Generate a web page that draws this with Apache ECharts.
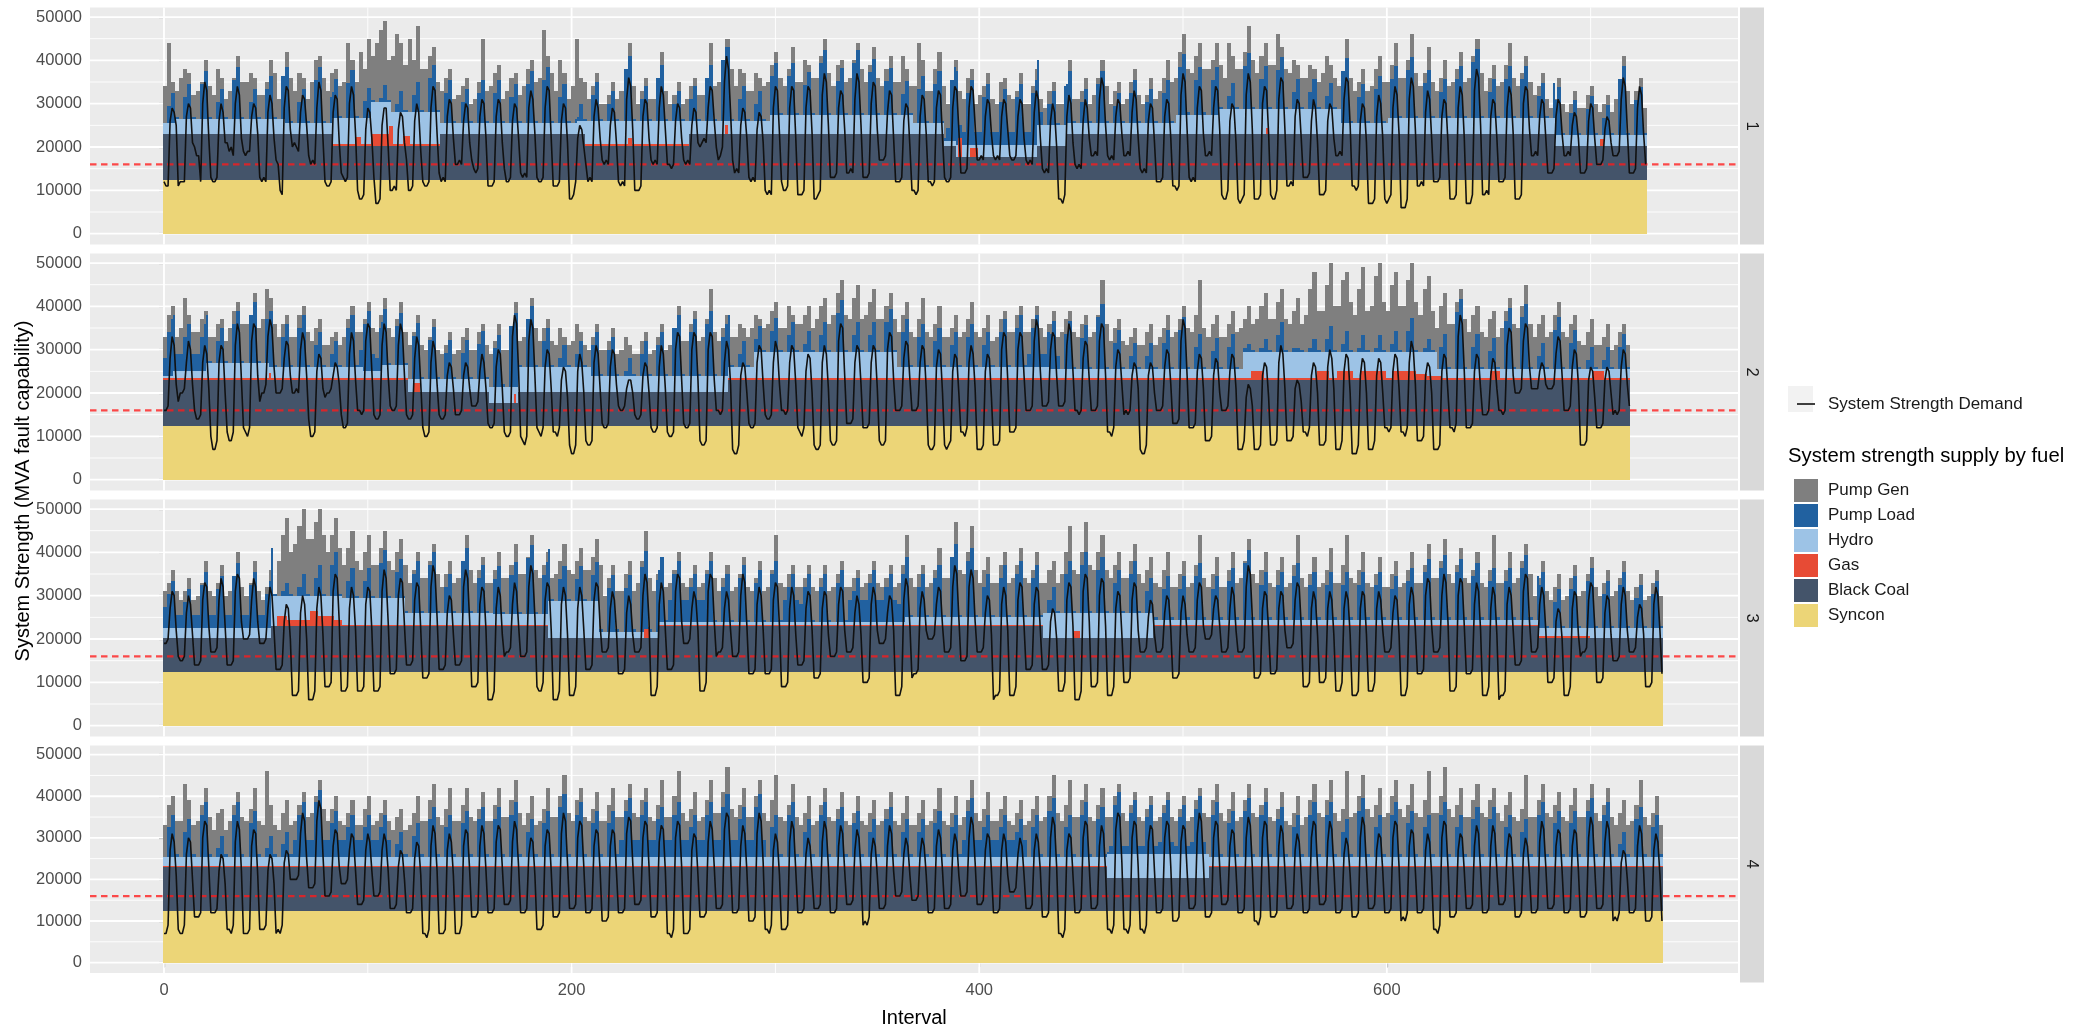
<!DOCTYPE html>
<html><head><meta charset="utf-8">
<script src="https://cdn.jsdelivr.net/npm/echarts@6/dist/echarts.min.js"></script>
<style>html,body{margin:0;padding:0;background:#fff}#c{width:2092px;height:1029px}</style>
</head><body><div id="c"></div>
<script>
// ---------------- DATA (values in thousand MVA) ----------------
const fuelNames = ['Syncon','Black Coal','Gas','Hydro','Pump Load','Pump Gen'];
const legendOrder = ['Pump Gen','Pump Load','Hydro','Gas','Black Coal','Syncon'];
const panelLabels = ['1','2','3','4'];
const xTickValues = [0,200,400,600];
const xMinorValues = [100,300,500,700];
const yTickValues = [0,10000,20000,30000,40000,50000];
const yMinorValues = [5000,15000,25000,35000,45000];
const minStrengthLevel = 16000;

// step segments [startInterval, endInterval, stack top]
const synconTop1 = [[0,728,12.5]];
const synconTop2 = [[0,720,12.5]];
const synconTop3 = [[0,736,12.5]];
const synconTop4 = [[0,736,12.5]];

const coalTop1 = [[0,83,23],[83,136,20.3],[136,207,23],[207,258,20.3],[258,383,23],[383,389,20.3],[389,429,17.7],[429,443,20.3],[443,683,23],[683,728,20.3]];
const coalTop2 = [[0,120,23],[120,160,20.3],[160,174,17.7],[174,277,20.3],[277,720,23]];
const coalTop3 = [[0,53,20.3],[53,189,23],[189,243,20.3],[243,432,23],[432,486,20.3],[486,675,23],[675,736,20.3]];
const coalTop4 = [[0,463,23],[463,513,20.3],[513,736,23]];

const gasTop1 = [[83,94,20.8],[94,97,22.2],[97,102,20.8],[102,111,23],[111,113,24.8],[113,118,20.8],[118,121,22.5],[121,136,20.8],[207,228,20.6],[228,230,22],[230,258,20.6],[276,277,25],[390,392,22],[396,400,19.8],[541,542,24.5],[705,707,21.8]];
const gasTop2 = [[0,52,23.4],[52,53,24.6],[53,120,23.4],[123,126,22.4],[172,173,19.7],[277,534,23.4],[534,540,25],[540,566,23.4],[566,572,25],[572,576,23.4],[576,584,25],[584,588,23.4],[588,600,25],[600,603,23.4],[603,615,25],[615,620,24.5],[620,627,24],[627,651,23.4],[651,656,25],[656,701,23.4],[701,707,25],[707,720,23.4]];
const gasTop3 = [[53,56,22.7],[56,61,25.3],[61,72,24.5],[72,76,26.5],[76,84,25.3],[84,88,24.5],[88,189,23.3],[236,239,22.2],[243,432,23.3],[447,450,21.8],[486,675,23.3],[675,700,20.6]];
const gasTop4 = [[0,463,23.3],[513,736,23.3]];

const hydroTop1 = [[0,6,25.5],[6,60,26.5],[60,83,25.5],[83,102,26.7],[102,112,30.3],[112,136,28],[136,203,25.5],[203,298,26],[298,368,27.3],[368,383,25.5],[383,389,21.5],[389,429,20.5],[429,443,25],[443,497,25.5],[497,518,27.5],[518,578,28.8],[578,601,25.5],[601,683,26.7],[683,728,22.8]];
const hydroTop2 = [[0,5,24],[5,21,25],[21,52,27],[52,98,26],[98,107,25],[107,120,26.5],[120,160,23.2],[160,174,21.5],[174,210,26],[210,277,24],[277,290,26],[290,360,29.4],[360,435,26],[435,530,25.6],[530,625,29.4],[625,720,25.6]];
const hydroTop3 = [[0,53,22.5],[53,88,30],[88,119,29.5],[119,162,26],[162,189,25.8],[189,214,28.8],[214,243,21.7],[243,364,24],[364,432,25],[432,486,26],[486,675,24.5],[675,736,22.5]];
const hydroTop4 = [[0,463,25.5],[463,513,26],[513,736,25.5]];

// Pump Load (MVA, thousands), one value per 2 intervals
const pumpLoad1 = [0,4,7,.5,0,5,8,.5,0,8,11,.5,0,4,7,.5,0,9,12,.5,0,4,7,.5,0,7,10,.5,0,10,13,.5,0,5,8,.5,0,10,13,.5,
0,6,9,.5,0,8,11,.5,0,4,7,.5,0,1,4,.5,0,2,5,.5,0,4,7,.5,0,8,11,.5,0,7,10,.5,0,5,8,.5,0,7,10,.5,
0,7,10,.5,0,6,9,.5,0,9,12,.5,0,10,13,.5,0,6,9,.5,0,1,4,.5,0,6,9,.5,0,4,7,.5,0,12,15,.5,0,5,8,.5,
0,10,13,.5,0,4,7,.5,0,5,8,.5,0,10,13,.5,0,14,17,.5,0,5,8,.5,0,4,7,.5,0,9,12,.5,0,9,12,.5,0,7,10,.5,
0,12,15,.5,0,8,11,.5,0,12,15,.5,0,10,13,.5,0,8,11,.5,0,5,8,.5,0,8,11,.5,0,9,12,.5,3,14,17,3,3,12,15,3,
3,11,14,3,3,10,13,3,3,11,14,3,3,12,15,3,0,5,8,.5,0,9,12,.5,0,5,8,.5,0,9,12,.5,0,4,7,.5,0,7,10,.5,
0,5,8,.5,0,7,10,.5,0,11,14,.5,0,8,11,.5,0,8,11,.5,0,3,6,.5,0,10,13,.5,0,7,10,.5,0,9,12,.5,0,4,7,.5,
0,4,7,.5,0,3,6,.5,0,12,15,.5,0,6,9,.5,0,8,11,.5,0,9,12,.5,0,11,14,.5,0,8,11,.5,0,6,9,.5,0,9,12,.5,
0,13,16,.5,0,6,9,.5,0,9,12,.5,0,9,12,.5,0,5,8,.5,0,8,11,.5,0,5,8,.5,0,6,9,.5,0,4,7,.5,0,13,16,.5,0,8,11,.5];
const pumpLoad2 = [4,10,13,4,4,8,11,4,4,8,11,.5,0,5,8,.5,0,9,12,.5,0,11,14,.5,0,10,13,.5,0,7,10,.5,0,9,12,.5,0,5,8,.5,
0,3,6,.5,0,9,12,.5,4,11,14,4,3,10,13,.5,0,9,12,.5,0,10,13,.5,0,9,12,.5,0,6,9,.5,0,6,9,.5,0,8,11,.5,
0,9,12,.5,0,14,17,.5,0,11,14,.5,0,6,9,.5,0,2,5,.5,0,3,6,.5,0,7,10,.5,0,6,9,.5,0,1,4,.5,0,5,8,.5,
0,7,10,.5,0,11,14,.5,0,10,13,.5,0,12,15,.5,0,9,12,.5,0,3,6,.5,0,3,6,.5,0,5,8,.5,0,4,7,.5,0,2,5,.5,
0,4,7,.5,0,9,12,.5,0,4,7,.5,0,4,7,.5,0,7,10,.5,0,8,11,.5,0,7,10,.5,0,6,9,.5,0,5,8,.5,0,7,10,.5,
0,5,8,.5,0,8,11,.5,0,9,12,.5,3,9,12,3,3,8,11,3,0,8,11,.5,0,7,10,.5,0,12,15,.5,0,6,9,.5,0,3,6,.5,
0,3,6,.5,0,6,9,.5,0,9,12,.5,0,5,8,.5,0,4,7,.5,0,5,8,.5,0,1,2,.5,0,1,3,.5,0,4,7,.5,0,1,1,.5,
0,1,3,.5,0,3,6,.5,0,2,5,.5,0,1,4,.5,0,1,4,.5,0,2,5,.5,0,5,8,.5,0,1,3,.5,0,5,8,.5,0,13,16,.5,
0,5,8,.5,0,4,7,.5,0,11,14,.5,0,12,15,.5,0,3,6,.5,0,9,12,.5,0,6,9,.5,0,2,5,.5,0,2,5,.5,0,5,8,.5];
const pumpLoad3 = [5,8,11,3,3,6,9,3,3,10,13,3,3,9,12,3,3,12,15,3,3,10,13,3,3,8,11,.5,0,1,3,.5,0,2,5,.5,0,4,7,.5,
0,7,10,.5,0,4,7,.5,0,4,7,.5,0,8,11,.5,0,6,9,.5,0,9,12,.5,0,11,14,.5,0,6,9,.5,0,12,15,.5,0,8,11,.5,
0,8,11,.5,0,9,12,.5,0,13,16,.5,0,9,12,.5,0,5,8,.5,0,5,8,.5,0,6,9,.5,0,10,13,.5,0,10,13,.5,0,15,18,.5,
0,12,15,.5,5,11,14,5,5,8,11,5,5,11,14,.5,0,8,11,.5,0,10,13,.5,0,9,12,.5,0,11,14,.5,5,8,11,5,4,8,11,.5,
0,8,11,.5,0,9,12,.5,5,7,10,5,5,9,12,5,5,8,11,5,4,11,14,.5,0,7,10,.5,0,9,12,.5,0,14,17,.5,0,13,16,.5,
0,7,10,.5,0,9,12,.5,0,10,13,.5,0,9,12,.5,0,3,6,.5,0,9,12,.5,0,11,14,.5,0,10,13,.5,0,7,10,.5,0,9,12,.5,
0,5,8,.5,0,7,10,.5,0,7,10,.5,0,10,13,.5,0,7,10,.5,0,9,12,.5,0,13,16,.5,0,8,11,.5,0,8,11,.5,0,10,13,.5,
0,8,11,.5,0,8,11,.5,0,8,11,.5,0,8,11,.5,0,8,11,.5,0,7,10,.5,0,9,12,.5,0,11,14,.5,0,12,15,.5,0,11,14,.5,
0,10,13,.5,0,9,12,.5,0,9,12,.5,0,12,15,.5,0,10,13,.5,0,6,9,.5,0,9,12,.5,0,11,14,.5,0,8,11,.5,0,10,13,.5,0,7,10,.5,0,8,11,.5];
const pumpLoad4 = [0,7,10,.5,0,6,9,.5,0,10,13,.5,0,2,5,.5,0,10,13,.5,0,8,11,.5,0,2,5,.5,0,3,6,.5,4,10,13,4,4,13,16,4,
4,8,11,4,4,7,10,4,4,7,10,4,4,7,10,4,0,3,6,.5,0,5,8,.5,0,9,12,.5,0,7,10,.5,0,8,11,.5,0,9,12,.5,
0,9,12,.5,0,10,13,.5,0,6,9,.5,0,8,11,.5,0,12,15,.5,0,10,13,.5,0,8,11,.5,0,8,11,.5,4,11,14,4,4,10,13,4,
4,9,12,4,4,10,13,4,4,7,10,4,4,10,13,4,4,12,15,4,4,9,12,4,4,12,15,4,0,7,10,.5,0,10,13,.5,0,6,9,.5,
0,10,13,.5,0,9,12,.5,0,8,11,.5,0,6,9,.5,0,9,12,.5,0,6,9,.5,0,6,9,.5,0,8,11,.5,0,7,10,.5,4,11,14,4,
4,7,10,4,4,7,10,4,4,6,9,4,0,7,10,.5,0,11,14,.5,0,7,10,.5,0,10,13,.5,0,9,12,.5,2,12,15,2,2,10,13,2,
2,9,12,2,3,10,13,3,2,9,12,2,3,11,14,3,0,10,13,.5,0,8,11,.5,0,11,14,.5,0,10,13,.5,0,9,12,.5,0,7,10,.5,
0,10,13,.5,0,10,13,.5,0,6,9,.5,0,11,14,.5,0,7,10,.5,0,10,13,.5,0,8,11,.5,0,7,10,.5,0,10,13,.5,0,7,10,.5,
0,9,12,.5,0,9,12,.5,0,7,10,.5,0,6,9,.5,0,10,13,.5,0,8,11,.5,0,8,11,.5,0,11,14,.5,0,10,13,.5,0,3,6,.5,0,9,12,.5,0,7,10,.5];

// Pump Gen stack top (= total supply), one value per 2 intervals
const pumpGenTop1 = [34,44,35,33,36,38,37,32,33,35,40,34,32,38,36,31,33,36,41,35,35,37,36,32,32,35,40,37,31,34,42,36,33,37,36,31,35,40,41,36,
33,37,38,34,35,44,40,35,42,38,45,41,44,47,49,40,41,46,44,39,45,40,48,38,38,41,43,35,33,36,38,31,32,34,36,30,31,35,45,33,
34,37,39,31,33,36,37,32,34,38,40,35,36,47,41,37,33,40,37,31,34,45,36,35,31,34,37,30,30,32,35,31,33,37,44,34,30,33,36,31,
31,35,42,33,30,32,35,30,31,34,36,32,32,36,44,34,35,40,45,38,34,38,37,33,33,37,36,34,35,39,42,36,34,38,43,35,35,40,39,36,
36,41,45,37,34,39,40,35,36,40,44,38,35,39,43,36,34,38,41,35,35,41,38,34,34,44,40,33,33,38,42,34,30,34,40,33,31,36,38,30,
32,34,37,31,30,35,36,32,31,33,37,30,30,34,38,31,29,33,35,30,30,34,40,31,31,33,36,30,32,36,40,34,30,33,35,30,31,35,38,32,
30,32,36,31,33,36,40,35,36,42,46,38,37,41,44,38,38,40,44,39,36,44,41,38,38,42,48,40,37,41,44,39,39,46,43,38,37,40,39,36,
36,39,38,35,37,41,39,36,34,37,45,36,33,35,38,33,34,38,41,35,35,39,44,36,36,40,46,37,34,37,43,35,33,36,40,34,35,38,42,35,
36,41,45,37,33,36,39,34,35,39,44,36,34,37,41,35,32,34,37,31,29,31,36,30,28,30,33,29,29,32,34,30,28,30,32,28,31,35,41,33,30,33,36,29];
const pumpGenTop2 = [33,38,40,33,35,42,38,34,34,37,39,33,33,36,37,32,35,39,41,36,36,38,43,35,37,44,42,36,33,36,38,33,33,38,40,34,32,35,37,31,
31,33,34,31,33,37,40,34,34,37,41,35,34,38,42,35,33,37,41,34,31,34,38,31,30,33,37,30,29,31,34,29,30,33,35,30,30,34,36,31,
29,32,36,30,30,35,41,32,33,37,42,35,32,35,37,32,31,35,33,31,32,36,34,31,30,33,36,30,30,32,35,29,30,33,31,29,29,32,34,29,
30,33,36,30,31,35,40,32,32,36,39,32,33,37,44,34,32,35,38,33,33,36,35,33,35,38,37,35,36,39,41,35,35,40,38,36,36,38,40,35,
37,40,42,36,38,43,46,38,37,42,45,37,38,41,44,37,37,40,43,37,34,38,41,34,33,37,42,34,33,36,40,33,33,35,38,33,34,37,41,34,
33,35,38,32,33,37,39,34,34,38,40,34,34,37,40,35,33,36,39,33,34,37,39,34,33,36,38,33,34,38,46,36,32,35,37,32,31,33,35,31,
31,34,36,31,33,35,38,33,34,37,40,35,34,38,46,35,33,36,38,33,33,36,39,34,35,37,40,36,37,40,43,37,37,41,44,37,36,39,42,36,
38,44,48,39,39,45,50,40,40,46,48,41,38,44,49,39,40,47,50,41,39,45,48,40,40,46,50,41,38,44,47,39,35,40,43,36,36,41,44,37,
34,38,40,34,33,37,39,33,35,39,42,36,35,40,45,36,33,36,38,33,34,38,41,34,33,36,38,32,31,34,37,31,31,33,36,30,31,34,36,31];
const pumpGenTop3 = [31,33,36,31,29,31,34,29,30,33,38,31,30,33,37,30,31,34,40,32,30,33,38,31,29,32,36,29,38,44,48,40,42,46,50,43,43,47,50,44,
40,44,48,41,37,41,45,38,36,40,44,37,37,41,45,38,36,40,43,37,33,36,40,34,34,38,42,35,32,35,38,33,34,38,44,36,33,36,39,33,
33,36,40,34,34,37,42,35,35,39,44,36,34,37,40,34,35,38,42,36,35,38,41,36,36,39,43,37,30,34,37,31,31,35,38,31,33,38,45,34,
31,35,39,32,33,36,40,33,32,34,37,32,33,36,40,34,31,34,37,31,32,35,39,32,31,34,38,31,32,36,44,33,32,35,37,32,32,34,37,32,
31,34,37,31,32,35,38,32,32,34,36,32,33,35,38,33,32,34,37,32,33,37,44,34,32,35,37,32,33,36,41,34,34,39,47,36,35,40,46,36,
33,36,39,33,33,37,40,33,34,37,41,34,33,36,40,33,33,36,38,33,35,40,46,36,35,40,47,37,36,40,44,36,34,37,40,34,34,38,42,35,
33,36,39,33,32,36,40,32,32,35,38,32,33,37,44,34,32,35,39,32,32,36,40,33,34,38,43,35,33,36,40,33,32,36,39,32,33,37,44,34,
32,35,39,32,33,36,41,33,33,37,44,34,33,36,40,33,32,35,39,32,32,35,38,32,33,36,40,33,33,37,42,34,34,38,43,35,33,37,41,34,
33,36,40,33,32,36,44,33,33,36,40,33,34,38,42,35,30,34,38,31,29,32,35,29,30,34,37,30,31,35,39,32,30,33,36,30,31,34,38,31,29,32,35,29,30,33,36,30];
const pumpGenTop4 = [33,38,40,34,34,43,39,33,34,38,42,35,32,36,37,32,34,38,41,35,34,37,42,34,33,46,38,33,32,36,39,33,34,38,41,35,36,40,44,37,
34,37,40,34,33,36,39,33,33,37,40,33,34,36,39,34,32,35,37,32,33,36,40,34,34,39,43,35,33,37,42,34,34,38,42,35,34,37,41,34,
34,38,42,35,35,39,44,36,33,36,40,33,34,37,42,35,35,40,45,36,34,39,42,35,34,37,41,34,34,38,42,35,35,39,43,36,35,39,42,35,
34,38,44,35,35,40,46,36,34,37,41,34,35,39,44,36,36,41,47,37,35,38,42,35,35,40,44,36,34,39,45,35,34,38,43,35,33,36,40,33,
34,38,42,35,34,37,41,34,33,36,40,34,33,36,39,33,34,37,41,34,33,36,40,33,33,36,39,33,34,37,42,34,33,36,40,33,35,39,44,36,
34,37,41,34,34,37,40,34,33,36,39,33,34,37,40,34,35,40,45,36,34,38,44,35,35,39,43,35,34,38,42,35,35,40,43,36,34,38,41,35,
34,37,40,34,35,38,41,35,34,37,40,34,35,39,42,36,35,39,43,36,34,37,41,34,35,39,43,36,35,38,42,35,34,37,41,34,33,36,40,33,
35,39,43,36,35,39,44,36,34,37,46,35,36,40,45,37,35,38,42,35,36,40,44,37,35,38,43,36,35,39,46,36,36,40,47,37,35,38,42,35,
35,39,43,36,35,39,42,36,34,38,41,35,34,37,45,35,35,39,43,36,35,38,41,35,34,38,42,35,35,39,43,36,34,38,42,35,33,36,39,33,34,38,44,35,33,36,40,33];

// System strength demand, one value per interval
const demand1 = [12,11,11,26,29,28,25,11,12,12,12,27,30,29,21,20,18,18,12,30,35,33,22,13,12,12,13,26,30,28,21,21,19,20,18,30,34,32,22,19,
18,19,19,27,30,29,23,13,12,13,12,28,32,30,22,17,16,10,9,29,34,33,24,20,21,20,19,28,32,31,25,18,16,17,16,29,35,33,22,12,
11,11,12,28,32,31,21,14,13,12,13,30,34,32,23,10,8,8,9,24,29,28,22,13,7,7,8,25,29,29,20,10,10,11,10,24,28,27,21,17,
10,10,11,26,30,28,19,12,11,11,12,29,34,33,23,14,12,13,12,27,31,30,22,16,16,17,16,26,30,29,21,17,15,14,15,27,31,30,22,11,
11,11,12,27,31,30,21,15,12,12,13,26,30,29,22,14,13,14,13,29,33,31,23,13,12,12,13,29,34,33,22,11,11,11,12,26,30,29,21,8,
8,9,12,22,25,24,20,16,12,13,12,27,31,29,22,17,16,17,16,25,29,28,21,12,11,12,11,31,36,34,24,10,10,10,11,27,31,30,22,17,
16,17,16,29,34,32,24,16,16,15,16,26,30,29,22,17,16,17,16,25,29,28,21,20,21,22,21,29,34,33,26,20,17,18,20,35,41,38,28,17,
14,15,14,25,29,28,22,13,12,13,12,24,28,27,21,10,9,10,9,29,34,33,23,12,10,10,11,29,34,33,22,9,9,9,10,29,34,33,23,8,
8,9,10,32,37,35,25,13,13,13,14,29,33,32,24,14,14,15,14,31,37,35,25,13,13,13,14,30,35,34,24,17,17,17,18,28,33,32,22,12,
12,12,13,26,30,29,20,10,10,9,10,27,32,31,23,12,12,11,12,29,33,32,22,13,12,12,13,29,34,33,24,14,14,14,15,29,34,33,25,17,
17,18,17,27,31,30,23,18,17,18,17,27,31,30,24,18,17,17,18,27,31,30,22,17,16,17,16,28,33,31,22,15,14,15,14,26,30,28,20,8,
8,7,9,27,32,30,21,16,15,16,15,26,31,29,22,18,18,19,18,31,36,34,25,18,17,18,17,27,31,30,23,18,18,19,18,28,33,31,22,15,
14,15,14,26,30,29,21,12,12,12,13,27,31,30,22,11,11,10,11,32,37,35,24,13,12,13,12,29,34,33,23,18,18,19,18,29,34,33,24,9,
8,8,10,26,30,29,21,8,7,8,9,32,37,35,24,8,8,8,9,30,34,33,23,9,8,8,10,31,36,35,24,11,11,12,11,27,31,30,22,13,
13,13,14,26,31,29,21,9,9,9,10,26,30,29,22,18,18,19,18,31,36,35,25,11,11,10,11,26,30,29,21,7,7,7,8,27,32,30,22,8,
7,8,9,29,34,32,23,6,6,6,8,31,36,34,24,11,11,12,11,28,33,31,22,12,12,12,13,27,31,30,21,8,8,8,9,29,34,32,22,7,
7,7,9,33,38,36,25,9,9,10,9,27,31,30,22,12,12,12,13,29,34,32,23,8,8,8,9,30,34,33,24,18,18,19,18,27,31,30,22,14,
14,14,15,27,31,30,23,18,18,19,18,25,28,27,22,14,14,14,15,26,30,29,22,16,16,16,17,24,27,26,21,18,18,18,19,31,36,34,24,14,
14,14,15,29,34,32,23,16];
const demand2 = [16,16,17,28,33,31,22,18,20,20,21,27,32,30,22,16,14,14,15,27,31,29,21,10,7,7,9,27,31,30,20,11,9,9,11,31,36,34,23,12,
11,10,12,32,36,35,24,18,20,20,22,33,37,35,26,20,20,20,21,28,32,31,24,20,20,21,20,30,34,32,24,14,10,10,11,25,29,28,21,19,
20,20,21,24,27,26,22,15,12,12,13,29,34,32,23,16,16,15,16,32,36,35,25,15,14,14,15,31,36,34,24,17,16,16,17,31,36,34,24,15,
14,14,15,28,33,31,22,12,10,10,11,27,32,30,22,15,14,14,15,24,27,26,21,15,15,15,16,24,27,26,21,17,17,17,18,25,29,27,21,13,
12,12,13,26,30,29,21,11,10,10,11,33,38,36,25,10,9,8,10,32,37,35,24,12,11,10,12,26,30,29,21,11,11,10,12,23,26,25,19,8,
6,6,8,25,29,27,20,9,8,8,9,27,31,29,21,13,12,12,13,26,30,29,22,17,16,16,17,21,23,23,20,15,14,14,15,24,27,26,20,12,
11,11,12,26,31,29,21,11,10,10,11,30,34,33,23,13,12,12,13,30,34,33,23,9,8,8,9,30,34,33,23,16,16,15,16,27,32,30,22,7,
6,6,8,24,27,26,20,13,12,12,13,27,31,30,22,15,14,14,15,27,32,30,22,16,16,15,16,27,31,30,22,12,11,10,12,25,29,28,20,8,
7,7,8,27,31,29,21,9,8,8,9,32,36,35,24,13,13,13,14,27,31,30,22,12,12,12,13,27,31,30,21,9,8,8,9,30,34,33,23,16,
16,16,17,28,32,31,23,16,16,16,17,27,31,30,21,8,7,7,8,26,30,29,20,8,7,8,9,25,29,28,20,11,11,10,12,27,31,29,21,7,
7,7,8,25,29,28,19,8,8,8,9,30,34,33,23,11,11,11,12,30,34,33,24,16,16,16,17,32,37,35,25,17,17,17,18,30,34,33,24,17,
17,17,18,31,36,34,25,16,16,15,16,28,32,31,23,16,16,16,17,32,36,35,24,11,11,10,12,26,30,29,22,15,16,15,16,24,27,26,21,7,
6,6,8,24,27,26,20,16,16,16,17,26,30,29,22,13,13,13,14,32,37,35,24,12,12,12,13,25,29,28,21,9,9,9,10,24,28,27,20,16,
16,16,17,25,29,28,21,7,7,7,9,19,22,21,17,7,7,7,8,24,27,26,19,8,8,8,9,27,31,29,21,9,9,9,10,21,23,22,18,11,
11,10,12,24,27,26,20,8,8,8,9,26,30,28,21,7,7,7,9,25,29,28,20,6,6,6,8,24,28,27,20,7,7,7,9,24,28,27,20,12,
12,11,12,25,29,28,21,11,11,10,12,27,32,30,22,9,9,9,10,24,27,26,20,7,7,7,8,25,29,28,20,12,12,11,13,33,38,36,25,12,
12,12,13,25,29,28,21,15,15,15,16,24,28,27,21,16,16,15,16,31,35,34,24,20,20,20,21,32,36,35,26,21,21,21,21,25,27,26,22,21,
21,21,22,29,33,32,24,16,16,16,17,26,30,29,22,8,8,8,9,23,26,25,19,12,12,12,13,23,26,25,20,15,16,15,16,26,30,29,22,17];
const demand3 = [19,19,20,27,31,30,22,16,15,15,16,26,30,28,21,14,14,14,15,29,33,32,23,17,17,17,18,29,34,32,23,14,14,14,15,31,35,34,24,20,
20,20,21,29,34,32,24,19,19,19,20,27,32,30,22,13,13,13,14,24,28,27,20,7,7,7,8,26,30,28,20,6,6,6,8,27,32,30,21,9,
9,9,10,31,35,34,24,8,8,8,9,27,32,30,22,8,8,8,9,28,32,31,22,8,8,8,9,31,36,34,24,12,12,12,13,30,34,33,23,14,
14,14,15,29,33,32,22,11,11,11,12,32,37,35,25,13,13,13,14,26,30,29,21,14,14,14,15,32,36,34,24,9,9,9,10,28,32,31,22,6,
6,6,8,27,32,30,21,16,17,17,18,28,33,31,23,16,16,16,17,32,37,35,25,9,8,8,10,29,33,32,22,6,6,6,8,28,32,30,21,7,
7,7,9,27,32,30,22,13,13,13,14,29,33,32,23,17,17,17,18,27,31,29,22,12,12,12,13,26,30,28,21,17,17,17,18,30,35,33,24,7,
7,7,9,28,33,31,22,13,13,13,14,31,35,34,24,19,19,19,20,27,31,29,22,8,8,8,10,31,35,34,24,16,17,17,18,27,31,29,22,16,
16,16,17,30,35,33,23,12,12,12,13,28,32,30,22,12,12,12,13,29,33,32,23,9,9,9,10,27,32,30,21,14,14,14,15,27,31,30,22,11,
11,11,12,27,31,30,21,16,16,16,17,28,32,31,22,17,17,17,18,26,30,28,21,10,10,10,11,28,32,30,22,19,19,19,20,26,30,29,22,7,
7,7,9,29,34,32,23,11,12,12,13,27,31,29,22,20,20,20,21,28,32,31,23,17,17,17,18,32,37,35,25,15,15,15,16,32,36,34,24,17,
17,17,18,26,30,29,21,6,7,7,8,28,32,30,22,7,7,7,9,29,33,32,23,13,13,13,14,28,32,31,22,13,13,13,14,24,27,26,20,8,
8,8,10,29,33,32,23,6,6,6,8,31,35,34,24,9,9,9,10,30,34,33,23,7,7,7,9,27,31,30,21,10,10,10,11,29,33,32,22,17,
17,17,18,25,29,28,21,17,17,17,18,26,30,29,22,11,11,11,12,26,30,28,21,17,17,17,18,29,33,32,23,20,20,20,21,27,30,29,23,17,
17,17,18,27,32,30,22,17,17,17,18,32,37,35,25,11,11,11,12,27,31,30,22,12,12,12,13,27,31,30,22,18,18,18,19,29,33,32,23,9,
9,9,10,27,31,29,21,10,10,10,11,27,31,29,21,8,8,8,10,27,31,29,21,7,7,7,8,27,31,30,21,8,8,8,10,27,31,29,22,17,
17,17,18,26,30,29,21,7,7,7,9,28,32,30,22,12,12,12,13,30,34,33,23,17,17,17,18,30,35,33,24,8,8,8,9,30,34,33,23,12,
12,12,13,28,33,31,22,7,7,7,9,27,32,30,21,6,7,7,8,28,32,30,22,14,14,14,15,31,35,34,24,17,17,17,18,28,32,30,22,10,
10,10,11,24,27,26,20,7,7,7,9,27,31,30,21,16,17,17,18,29,33,32,23,10,10,10,11,26,30,29,21,15,15,15,16,28,32,30,22,17,
17,17,18,25,28,27,21,9,9,9,10,28,32,30,22,12];
const demand4 = [7,7,9,27,31,29,21,8,7,7,9,26,30,29,20,11,11,11,12,30,34,33,23,12,12,12,13,22,26,25,19,8,8,7,9,29,34,32,22,7,
7,7,8,28,32,31,21,8,8,8,9,22,26,25,19,7,8,7,9,24,27,26,20,20,20,20,21,31,36,34,25,18,18,18,19,34,39,37,26,16,
16,16,17,28,32,31,23,19,19,19,20,27,31,30,22,14,14,14,15,27,31,29,22,16,16,16,17,27,31,29,22,13,13,13,14,23,27,26,20,12,
12,12,13,25,29,28,21,7,7,6,8,28,33,31,22,7,7,7,8,27,31,29,21,7,7,7,9,28,32,31,22,11,11,11,12,28,33,31,22,12,
12,12,13,29,33,32,23,14,14,14,15,29,34,32,23,12,12,12,13,26,30,29,21,8,8,8,9,28,32,31,22,11,11,11,12,31,36,34,24,13,
13,13,14,30,34,33,23,12,12,12,13,28,32,31,22,10,10,10,11,28,32,31,22,12,12,12,13,31,35,34,24,14,14,14,15,30,34,33,23,11,
11,11,12,29,33,32,22,7,7,6,8,30,34,33,23,7,7,7,8,27,31,30,21,11,11,11,12,29,34,32,23,13,13,13,14,32,36,35,25,12,
12,12,13,28,33,31,22,10,10,10,11,31,36,34,24,8,8,7,9,27,31,29,21,8,8,8,9,29,34,32,22,12,12,12,13,26,30,28,21,13,
13,13,14,29,34,32,23,12,12,12,13,28,33,31,22,14,14,14,15,27,32,30,22,9,10,9,11,26,30,28,21,13,13,13,14,28,33,31,22,16,
16,16,17,26,30,28,21,15,15,15,16,26,30,28,21,12,12,12,13,28,32,30,22,13,13,13,14,27,31,29,21,16,16,16,17,30,35,33,24,14,
14,14,15,27,31,30,22,12,12,12,13,27,31,29,21,17,17,17,18,26,30,28,21,13,13,13,14,27,31,29,22,11,11,11,12,30,35,33,23,7,
7,6,8,27,31,30,21,12,12,12,13,30,34,33,23,13,13,13,14,28,33,31,22,8,8,7,9,32,36,35,24,8,8,7,9,30,34,33,23,8,
8,7,9,29,33,32,22,12,12,12,13,30,34,33,23,10,10,10,11,29,33,32,22,13,13,13,14,31,36,34,24,11,11,11,12,30,34,33,23,14,
14,14,15,28,32,31,22,12,12,12,13,30,35,33,23,10,10,9,11,30,34,33,23,11,11,11,12,28,33,31,22,13,13,13,14,27,31,29,21,12,
12,12,13,30,34,33,23,14,14,14,15,29,34,32,23,12,12,12,13,26,30,28,21,11,11,11,12,30,35,33,23,13,13,13,14,27,31,30,22,12,
12,12,13,30,34,33,23,10,11,10,12,28,32,31,22,12,12,12,13,27,31,29,21,8,8,7,9,30,34,33,23,11,11,11,12,27,31,30,22,13,
13,13,14,28,33,31,22,12,12,12,13,28,33,31,22,14,14,14,15,27,31,30,21,11,11,11,12,26,30,28,21,12,12,12,13,29,34,32,23,13,
13,13,14,28,32,31,22,12,12,12,13,28,32,31,22,11,11,11,12,30,35,33,23,13,13,13,14,29,34,32,23,10,11,10,12,24,27,26,20,12,
12,12,13,28,33,31,22,10,10,10,11,27,31,29,21,10];

// ---------------- BUILD ----------------
const panels = [
  {syncon:synconTop1, coal:coalTop1, gas:gasTop1, hydro:hydroTop1, load:pumpLoad1, gen:pumpGenTop1, demand:demand1},
  {syncon:synconTop2, coal:coalTop2, gas:gasTop2, hydro:hydroTop2, load:pumpLoad2, gen:pumpGenTop2, demand:demand2},
  {syncon:synconTop3, coal:coalTop3, gas:gasTop3, hydro:hydroTop3, load:pumpLoad3, gen:pumpGenTop3, demand:demand3},
  {syncon:synconTop4, coal:coalTop4, gas:gasTop4, hydro:hydroTop4, load:pumpLoad4, gen:pumpGenTop4, demand:demand4}
];
const colorMap = {'Syncon':'#ECD577','Black Coal':'#44546A','Gas':'#E74B35','Hydro':'#9DC3E6','Pump Load':'#2161A0','Pump Gen':'#7F7F7F'};

function segVal(segs, i){ for (const s of segs){ if (i>=s[0] && i<s[1]) return s[2]; } return null; }

function buildLayers(p){
  const N = p.demand.length;
  const per = [[],[],[],[],[],[]];
  for (let i=0;i<N;i++){
    const s = segVal(p.syncon,i) ?? 0;
    const c = Math.max(s, segVal(p.coal,i) ?? s);
    const g = Math.max(c, segVal(p.gas,i) ?? c);
    const h = Math.max(g, segVal(p.hydro,i) ?? g);
    const l = h + (p.load[i>>1] ?? 0);
    const t = Math.max(l, p.gen[i>>1] ?? l);
    const b = [0,s,c,g,h,l,t];
    for (let k=0;k<6;k++) per[k].push([b[k], b[k+1]]);
  }
  return per.map(arr=>{
    const out=[]; let st=0;
    for (let i=1;i<=N;i++){
      if (i===N || arr[i][0]!==arr[st][0] || arr[i][1]!==arr[st][1]){
        if (arr[st][1] > arr[st][0]) out.push([st-0.5, i-0.5, arr[st][0]*1000, arr[st][1]*1000]);
        st=i;
      }
    }
    return out;
  });
}

const FONT = '"Liberation Sans", Arial, Helvetica, sans-serif';
const gridTops = [7.5, 253.5, 499.5, 745.5];
const gridH = 237, gridL = 90, gridW = 1648;

function rectItem(params, api){
  const p0 = api.coord([api.value(0), api.value(2)]);
  const p1 = api.coord([api.value(1), api.value(3)]);
  const l = Math.round(p0[0]), r = Math.round(p1[0]);
  const b = Math.round(p0[1]), t = Math.round(p1[1]);
  if (r<=l || b<=t) return null;
  return {type:'rect', shape:{x:l, y:t, width:r-l, height:b-t}, style:{fill: api.visual('color')}};
}
function gridLineItem(params, api){
  const cs = params.coordSys;
  const orient = api.value(0), v = api.value(1), major = api.value(2);
  const w = major ? 1.8 : 0.9;
  if (orient === 0){
    const y = api.coord([0, v])[1];
    return {type:'line', shape:{x1:cs.x, y1:y, x2:cs.x+cs.width, y2:y}, style:{stroke:'#FFFFFF', lineWidth:w}};
  } else {
    const x = api.coord([v, 0])[0];
    return {type:'line', shape:{x1:x, y1:cs.y, x2:x, y2:cs.y+cs.height}, style:{stroke:'#FFFFFF', lineWidth:w}};
  }
}
function refLineItem(params, api){
  const cs = params.coordSys;
  const y = api.coord([0, api.value(0)])[1];
  return {type:'line', shape:{x1:cs.x, y1:y, x2:cs.x+cs.width, y2:y},
          style:{stroke:'rgba(255,25,25,0.78)', lineWidth:2.2, lineDash:[6.5,4.5]}};
}

const grids=[], xAxes=[], yAxes=[], series=[], graphics=[];
const gridLineData = [];
yTickValues.forEach(v=>gridLineData.push([0,v,1]));
yMinorValues.forEach(v=>gridLineData.push([0,v,0]));
xTickValues.forEach(v=>gridLineData.push([1,v,1]));
xMinorValues.forEach(v=>gridLineData.push([1,v,0]));

panels.forEach((p, k)=>{
  const last = k===panels.length-1;
  grids.push({left:gridL, top:gridTops[k], width:gridW, height:gridH, show:true, backgroundColor:'#EBEBEB', borderWidth:0, containLabel:false});
  xAxes.push({type:'value', gridIndex:k, min:-36.3, max:772.3,
    axisLine:{show:false}, splitLine:{show:false},
    axisTick:{show:last, length:5, customValues:xTickValues, lineStyle:{color:'#333', width:1.1}},
    axisLabel:{show:last, customValues:xTickValues, color:'#4D4D4D', fontSize:16.5, fontFamily:FONT, margin:9},
    name: last ? 'Interval' : '', nameLocation:'middle', nameGap:35,
    nameTextStyle:{fontSize:20, color:'#000', fontFamily:FONT}});
  yAxes.push({type:'value', gridIndex:k, min:-2500, max:52200, interval:2500,
    axisLine:{show:false}, splitLine:{show:false},
    axisTick:{show:true, length:5, customValues:yTickValues, lineStyle:{color:'#333', width:1.1}},
    axisLabel:{customValues:yTickValues, color:'#4D4D4D', fontSize:16.5, fontFamily:FONT, margin:8,
      formatter:(v)=> (v%10000===0 && v>=0) ? String(v) : ''}});
  series.push({type:'custom', name:'grid'+k, xAxisIndex:k, yAxisIndex:k, z:1, silent:true,
    renderItem:gridLineItem, data:gridLineData, encode:{x:1, y:1}});
  const layers = buildLayers(p);
  layers.forEach((data, f)=>{
    series.push({type:'custom', name:fuelNames[f], xAxisIndex:k, yAxisIndex:k, z:2, silent:true,
      itemStyle:{color:colorMap[fuelNames[f]]}, renderItem:rectItem, data:data, encode:{x:[0,1], y:[2,3]}});
  });
  series.push({type:'custom', name:'min'+k, xAxisIndex:k, yAxisIndex:k, z:3, silent:true,
    renderItem:refLineItem, data:[[minStrengthLevel]], encode:{y:0}});
  series.push({type:'line', name:'System Strength Demand', xAxisIndex:k, yAxisIndex:k, z:4, silent:true,
    symbol:'none', showSymbol:false, color:'#111', lineStyle:{color:'#111', width:1.6},
    data:p.demand.map((v,i)=>[i, v*1000])});
  graphics.push({type:'rect', shape:{x:1740, y:gridTops[k], width:24, height:gridH}, style:{fill:'#D9D9D9'}, z:0});
  graphics.push({type:'text', x:1752, y:gridTops[k]+gridH/2, rotation:-Math.PI/2,
    style:{text:panelLabels[k], fill:'#1A1A1A', font:'16.5px '+FONT, align:'center', verticalAlign:'middle'}, z:1});
});

graphics.push({type:'text', x:23, y:491, rotation:Math.PI/2,
  style:{text:'System Strength (MVA fault capability)', fill:'#000', font:'20px '+FONT, align:'center', verticalAlign:'middle'}});
graphics.push({type:'rect', shape:{x:1788, y:386, width:25, height:26}, style:{fill:'#F2F2F2'}, z:0});
graphics.push({type:'text', x:1788, y:456, style:{text:'System strength supply by fuel', fill:'#000', font:'20.3px '+FONT, align:'left', verticalAlign:'middle'}});

const chart = echarts.init(document.getElementById('c'), null, {renderer:'canvas'});
chart.setOption({
  animation:false,
  backgroundColor:'#FFFFFF',
  grid:grids, xAxis:xAxes, yAxis:yAxes, series:series,
  graphic:{elements:graphics},
  legend:[
    {data:[{name:'System Strength Demand', icon:'rect'}], orient:'vertical', left:1792, top:389,
     itemWidth:18, itemHeight:1.6, selectedMode:false,
     textStyle:{fontSize:17, color:'#1A1A1A', fontFamily:FONT, lineHeight:20, padding:[0,0,0,8]}},
    {data:legendOrder.map(n=>({name:n, icon:'rect'})), orient:'vertical', left:1789, top:474,
     itemWidth:24, itemHeight:23, itemGap:2, selectedMode:false,
     textStyle:{fontSize:17, color:'#1A1A1A', fontFamily:FONT, lineHeight:23, padding:[0,0,0,5]}}
  ]
});
</script></body></html>
